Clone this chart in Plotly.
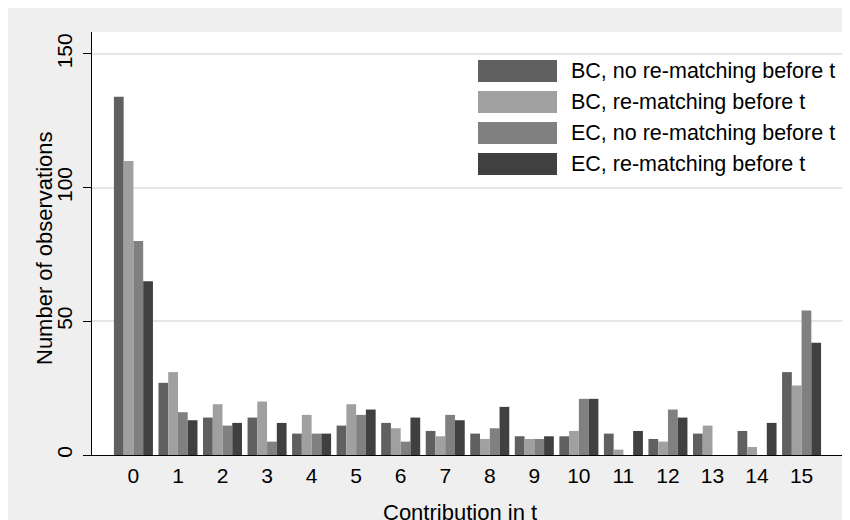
import plotly.graph_objects as go

categories = list(range(16))
tick_labels = [str(c) for c in categories]
series_names = ["BC, no re-matching before t", "BC, re-matching before t",
                "EC, no re-matching before t", "EC, re-matching before t"]
bc_no = [134, 27, 14, 14, 8, 11, 12, 9, 8, 7, 7, 8, 6, 8, 9, 31]
bc_re = [110, 31, 19, 20, 15, 19, 10, 7, 6, 6, 9, 2, 5, 11, 3, 26]
ec_no = [80, 16, 11, 5, 8, 15, 5, 15, 10, 6, 21, 0, 17, 0, 0, 54]
ec_re = [65, 13, 12, 12, 8, 17, 14, 13, 18, 7, 21, 9, 14, 0, 12, 42]
colors = ["#606060", "#a0a0a0", "#808080", "#404040"]

FONT = "Liberation Sans, Arial, sans-serif"
W, H = 850, 520
OFF = 8  # page body margin (screen px = figure px + 8)
# plot area in screen pixels: x 92..843, y 32..455
SX0, SX1, SY0, SY1 = 92, 843, 32, 455
L, T = SX0 - OFF, SY0 - OFF
R, B = W - (SX1 - OFF), H - (SY1 - OFF)
PW, PH = SX1 - SX0, SY1 - SY0


def px_x(p):
    return (p - SX0) / PW


def px_y(p):
    return (SY1 - p) / PH


fig = go.Figure()
for name, vals, col in zip(series_names, [bc_no, bc_re, ec_no, ec_re], colors):
    fig.add_trace(go.Bar(x=categories, y=vals, name=name, marker_color=col,
                         marker_line_width=0, showlegend=False))

shapes = []
annotations = []
# custom legend with wide swatches
legend_centers = [71, 102, 133, 164]
for name, col, cy in zip(series_names, colors, legend_centers):
    shapes.append(dict(type="rect", xref="paper", yref="paper",
                       x0=px_x(478), x1=px_x(557), y0=px_y(cy + 11), y1=px_y(cy - 11),
                       fillcolor=col, line_width=0))
    annotations.append(dict(xref="paper", yref="paper", x=px_x(569), y=px_y(cy),
                            xanchor="left", yanchor="middle", text=name, showarrow=False,
                            font=dict(family=FONT, size=21.5, color="black")))

annotations.append(dict(xref="paper", yref="paper", x=px_x(44), y=px_y(248),
                        text="Number of observations", textangle=-90, showarrow=False,
                        xanchor="center", yanchor="middle",
                        font=dict(family=FONT, size=22, color="black")))
annotations.append(dict(xref="paper", yref="paper", x=px_x(460), y=px_y(512),
                        text="Contribution in t", showarrow=False,
                        xanchor="center", yanchor="middle",
                        font=dict(family=FONT, size=22, color="black")))

fig.update_layout(
    width=W, height=H,
    margin=dict(l=L, r=R, t=T, b=B, pad=0),
    paper_bgcolor="#efefef", plot_bgcolor="white",
    barmode="group", bargap=0.124, bargroupgap=0,
    shapes=shapes, annotations=annotations,
    font=dict(family=FONT, size=21, color="black"),
    xaxis=dict(range=[-0.93, 15.93], tickmode="array", tickvals=categories,
               ticktext=tick_labels, showgrid=False, zeroline=False,
               showline=True, linecolor="black", linewidth=1, ticks="",
               ticklabelstandoff=2, tickfont=dict(family=FONT, size=21)),
    yaxis=dict(range=[0, 158.2], tickmode="array", tickvals=[0, 50, 100, 150],
               showgrid=True, gridcolor="#e6e6e6", gridwidth=1.5, zeroline=False,
               showline=True, linecolor="black", linewidth=1,
               ticks="outside", ticklen=8, tickcolor="black", tickwidth=1,
               tickangle=-90, ticklabelstandoff=3, tickfont=dict(family=FONT, size=21)),
)

fig.write_html("out.html")
